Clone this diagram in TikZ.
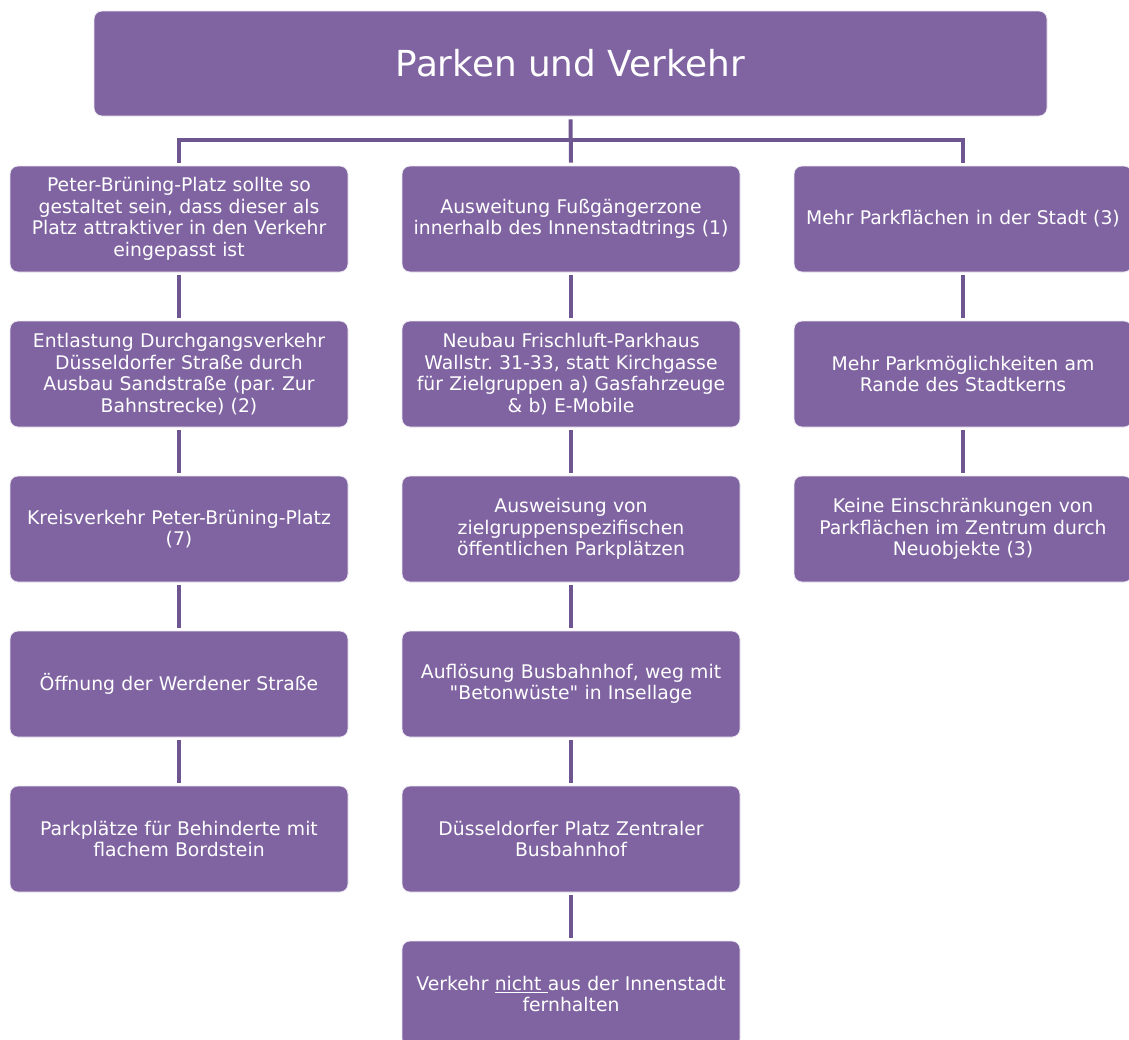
\documentclass[tikz,border=0pt]{standalone}
\usepackage{fontspec}
\setmainfont{DejaVu Sans}
\usepackage{xcolor}
\frenchspacing
\definecolor{boxfill}{RGB}{128,100,162}
\definecolor{linecol}{RGB}{110,86,145}
\begin{document}
\begin{tikzpicture}[x=1pt,y=-1pt,
  card/.style={rectangle, rounded corners=8pt, fill=boxfill, draw=white!85!boxfill, line width=0.8pt,
    minimum width=338pt, minimum height=106pt, text width=336pt, align=center,
    text=white, font=\fontsize{18.8}{21.6}\selectfont, inner sep=0pt},
  headbox/.style={rectangle, rounded corners=8pt, fill=boxfill, draw=white!85!boxfill, line width=0.8pt,
    minimum width=953pt, minimum height=105pt, text=white, font=\fontsize{35.8}{42}\selectfont},
  link/.style={draw=linecol, line width=4pt}]
\useasboundingbox (0,0) rectangle (1129,1039);
\clip (0,0) rectangle (1129,1039);
\node[headbox] (top) at (570.5,63.5) {Parken und Verkehr};
% column 1
\node[card] (a1) at (179,219) {Peter-Brüning-Platz sollte so\\gestaltet sein, dass dieser als\\Platz attraktiver in den Verkehr\\eingepasst ist};
\node[card] (a2) at (179,374) {Entlastung Durchgangsverkehr\\Düsseldorfer Straße durch\\Ausbau Sandstraße (par. Zur\\Bahnstrecke) (2)};
\node[card] (a3) at (179,529) {Kreisverkehr Peter-Brüning-Platz\\(7)};
\node[card] (a4) at (179,684) {Öffnung der Werdener Straße};
\node[card] (a5) at (179,839) {Parkplätze für Behinderte mit\\flachem Bordstein};
% column 2
\node[card] (b1) at (571,219) {Ausweitung Fußgängerzone\\innerhalb des Innenstadtrings (1)};
\node[card] (b2) at (571,374) {Neubau Frischluft-Parkhaus\\Wallstr. 31-33, statt Kirchgasse\\für Zielgruppen a) Gasfahrzeuge\\\& b) E-Mobile};
\node[card] (b3) at (571,529) {Ausweisung von\\zielgruppenspezifischen\\öffentlichen Parkplätzen};
\node[card] (b4) at (571,684) {Auflösung Busbahnhof, weg mit\\\textquotedbl Betonwüste\textquotedbl{} in Insellage};
\node[card] (b5) at (571,839) {Düsseldorfer Platz Zentraler\\Busbahnhof};
\node[card] (b6) at (571,994) {Verkehr \underline{nicht }aus der Innenstadt\\fernhalten};
% column 3
\node[card] (c1) at (963,219) {Mehr Parkflächen in der Stadt (3)};
\node[card] (c2) at (963,374) {Mehr Parkmöglichkeiten am\\Rande des Stadtkerns};
\node[card] (c3) at (963,529) {Keine Einschränkungen von\\Parkflächen im Zentrum durch\\Neuobjekte (3)};
% tree connector
\coordinate (bus) at (571,140);
\draw[link] ([yshift=-3pt]top.south) -- ([yshift=3pt]b1.north);
\draw[link] ([yshift=3pt]a1.north) -- (a1.north |- bus) -- (c1.north |- bus) -- ([yshift=3pt]c1.north);
% column links
\foreach \u/\v in {a1/a2,a2/a3,a3/a4,a4/a5,b1/b2,b2/b3,b3/b4,b4/b5,b5/b6,c1/c2,c2/c3}
  \draw[link] ([yshift=-3pt]\u.south) -- ([yshift=3pt]\v.north);
\end{tikzpicture}
\end{document}
